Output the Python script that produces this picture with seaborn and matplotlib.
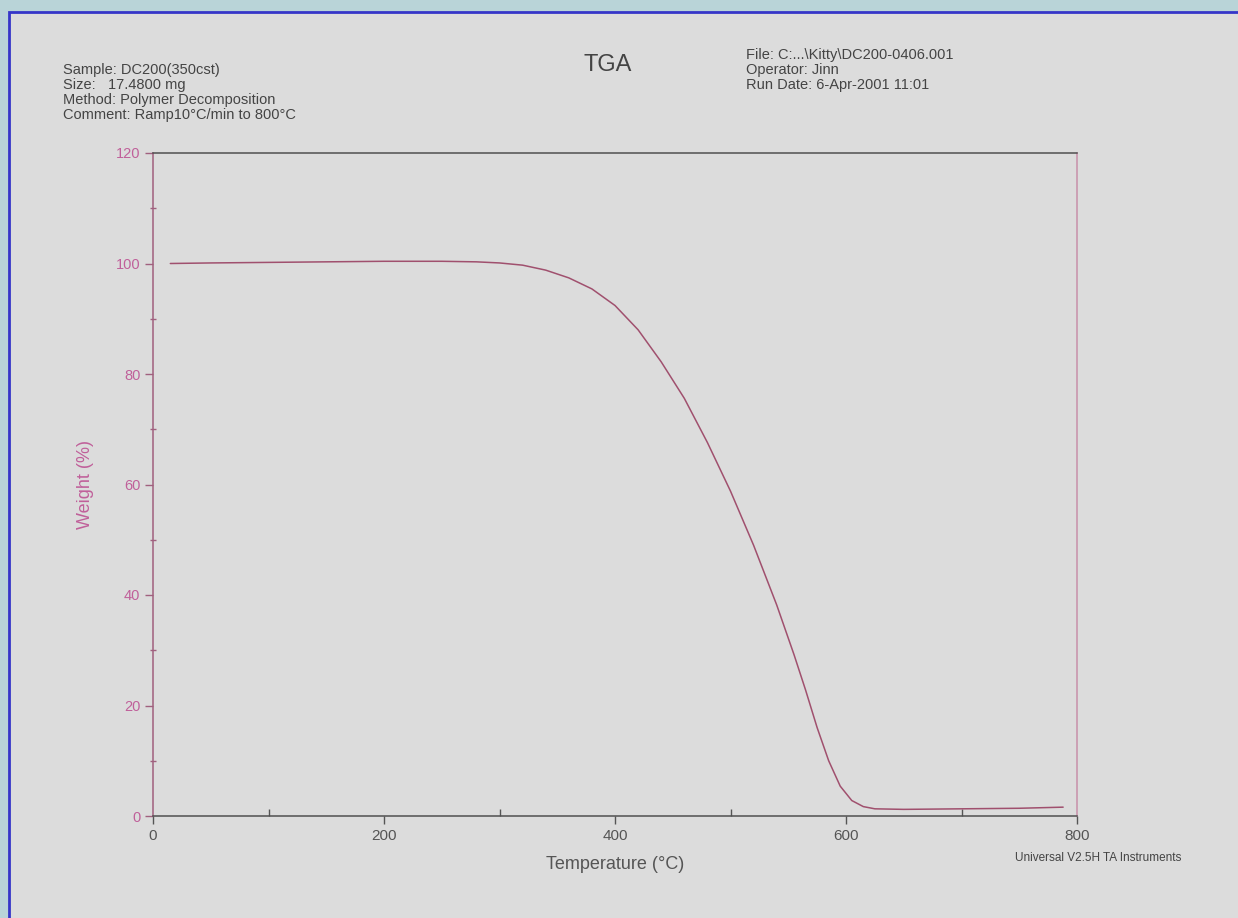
import numpy as np
import pandas as pd
import matplotlib
matplotlib.use("Agg")
import matplotlib.pyplot as plt
import seaborn as sns
from matplotlib.patches import Rectangle
from matplotlib.ticker import MultipleLocator

# TGA curve
temperature = [15, 50, 100, 150, 200, 250, 280, 300, 320, 340, 360, 380, 400,
               420, 440, 460, 480, 500, 520, 540, 555, 565, 575, 585, 595, 605,
               615, 625, 650, 700, 750, 788]
weight = [100.0, 100.1, 100.2, 100.3, 100.4, 100.4, 100.3, 100.1, 99.7, 98.8,
          97.4, 95.4, 92.4, 88.0, 82.2, 75.6, 67.6, 58.8, 49.0, 38.2, 29.2,
          22.8, 16.0, 10.0, 5.4, 2.8, 1.7, 1.3, 1.2, 1.3, 1.4, 1.6]

x_ticks = [0, 200, 400, 600, 800]
y_ticks = [0, 20, 40, 60, 80, 100, 120]

header_left = ["Sample: DC200(350cst)", "Size:   17.4800 mg",
               "Method: Polymer Decomposition", "Comment: Ramp10°C/min to 800°C"]
header_right = ["File: C:...\\Kitty\\DC200-0406.001", "Operator: Jinn",
                "Run Date: 6-Apr-2001 11:01"]


def main():
    sns.set_theme(style="white")
    plt.rcParams['font.family'] = ['Liberation Sans', 'DejaVu Sans']

    paper = "#dcdcdc"
    pink = "#c0609a"
    grey = "#555555"

    df = pd.DataFrame({'Temperature': temperature, 'Weight': weight})

    fig = plt.figure(figsize=(12.38, 9.18), dpi=100)
    fig.patch.set_facecolor("#b9d4d8")
    W, H = 1238, 918
    # scanned sheet with blue frame on the left and top only
    fig.patches.append(Rectangle((9 / W, -0.01), 1.1, 1 - 12.5 / H + 0.01,
                                 transform=fig.transFigure, facecolor=paper,
                                 edgecolor="#3535c8", linewidth=2, zorder=-5))

    ax = fig.add_axes([153 / W, 1 - 816 / H, (1077 - 153) / W, (816 - 153) / H])
    ax.set_zorder(2)
    ax.set_facecolor(paper)
    sns.lineplot(data=df, x='Temperature', y='Weight', ax=ax, color="#a0506e",
                 linewidth=1.1, sort=False)

    ax.set_xlim(0, 800)
    ax.set_ylim(0, 120)
    ax.set_xticks(x_ticks)
    ax.set_yticks(y_ticks)
    ax.xaxis.set_minor_locator(MultipleLocator(100))
    ax.yaxis.set_minor_locator(MultipleLocator(10))

    ax.spines['left'].set_color("#a0607e")
    ax.spines['right'].set_color("#c890aa")
    ax.spines['top'].set_color("#505050")
    ax.spines['bottom'].set_color("#505050")
    for s in ax.spines.values():
        s.set_linewidth(1.1)

    ax.tick_params(axis='y', which='major', direction='out', length=6, width=1,
                   color="#a0607e", labelcolor=pink, labelsize=10.5, pad=3, left=True)
    ax.tick_params(axis='y', which='minor', direction='inout', length=4, width=1,
                   color="#a0607e", left=True)
    ax.tick_params(axis='x', which='major', direction='out', length=6, width=1,
                   color=grey, labelcolor=grey, labelsize=11, pad=3, bottom=True)
    ax.tick_params(axis='x', which='minor', direction='in', length=5, width=1,
                   color=grey, bottom=True)

    ax.set_xlabel("Temperature (°C)", fontsize=13, color=grey, labelpad=10)
    ax.set_ylabel("Weight (%)", fontsize=13, color=pink, labelpad=16)

    def fy(py):
        return 1 - py / H

    fig.text(608 / W, fy(65), "TGA", fontsize=17, color="#444444",
             ha='center', va='center')
    for i, line in enumerate(header_left):
        fig.text(63 / W, fy(70 + i * 15), line, fontsize=10.5, color="#444444",
                 ha='left', va='center')
    for i, line in enumerate(header_right):
        fig.text(746 / W, fy(55 + i * 15), line, fontsize=10.5, color="#444444",
                 ha='left', va='center')
    fig.text(1015 / W, fy(858), "Universal V2.5H TA Instruments", fontsize=8.5,
             color="#444444", ha='left', va='center')

    fig.savefig("out.png", dpi=100, facecolor=fig.get_facecolor())


if __name__ == "__main__":
    main()
